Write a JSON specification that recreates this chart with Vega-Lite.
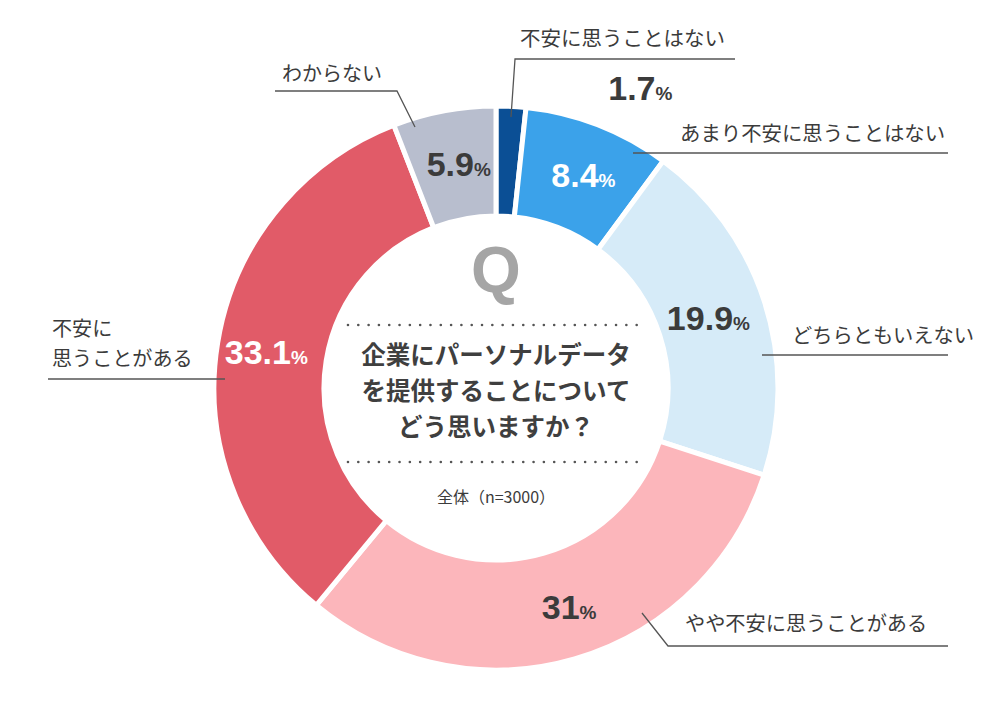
{
  "$schema": "https://vega.github.io/schema/vega-lite/v6.json",
  "width": 1000,
  "height": 710,
  "autosize": {"type": "fit", "contains": "padding"},
  "padding": 0,
  "background": "white",
  "config": {"view": {"stroke": null}, "font": "Noto Sans CJK JP"},
  "datasets": {
    "shares": [
      {"ord": 1, "cat": "不安に思うことはない", "pct": 1.7},
      {"ord": 2, "cat": "あまり不安に思うことはない", "pct": 8.4},
      {"ord": 3, "cat": "どちらともいえない", "pct": 19.9},
      {"ord": 4, "cat": "やや不安に思うことがある", "pct": 31},
      {"ord": 5, "cat": "不安に思うことがある", "pct": 33.1},
      {"ord": 6, "cat": "わからない", "pct": 5.9}
    ],
    "leaders": [
      {"id": 1, "seq": 1, "u": 5.36, "v": 96.79},
      {"id": 1, "seq": 2, "u": 6.79, "v": 117.5},
      {"id": 1, "seq": 3, "u": 85.36, "v": 117.5},
      {"id": 2, "seq": 1, "u": 48.93, "v": 83.93},
      {"id": 2, "seq": 2, "u": 161.43, "v": 83.93},
      {"id": 3, "seq": 1, "u": 95.0, "v": 11.79},
      {"id": 3, "seq": 2, "u": 161.43, "v": 11.79},
      {"id": 4, "seq": 1, "u": 52.14, "v": -80.36},
      {"id": 4, "seq": 2, "u": 61.43, "v": -92.14},
      {"id": 4, "seq": 3, "u": 161.43, "v": -92.14},
      {"id": 5, "seq": 1, "u": -160.0, "v": 3.21},
      {"id": 5, "seq": 2, "u": -96.79, "v": 3.21},
      {"id": 6, "seq": 1, "u": -78.93, "v": 106.07},
      {"id": 6, "seq": 2, "u": -35.36, "v": 106.07},
      {"id": 6, "seq": 3, "u": -28.93, "v": 93.21}
    ],
    "labels": [
      {"cat": "不安に思うことはない", "text": "不安に思うことはない", "u": 8.57, "v": 124.29},
      {"cat": "あまり不安に思うことはない", "text": "あまり不安に思うことはない", "u": 65.71, "v": 90.36},
      {"cat": "どちらともいえない", "text": "どちらともいえない", "u": 105.71, "v": 18.21},
      {"cat": "やや不安に思うことがある", "text": "やや不安に思うことがある", "u": 67.5, "v": -84.64},
      {"cat": "不安に思うことがある", "text": "不安に", "u": -158.57, "v": 20.71},
      {"cat": "不安に思うことがある", "text": "思うことがある", "u": -158.57, "v": 10.0},
      {"cat": "わからない", "text": "わからない", "u": -76.43, "v": 111.79}
    ],
    "outside": [{"pct": "1.7", "u": 56.96, "v": 107.14}],
    "one": [{}]
  },
  "layer": [
    {
      "data": {"name": "shares"},
      "mark": {"type": "arc", "outerRadius": 282, "innerRadius": 172, "stroke": "white", "strokeWidth": 5},
      "encoding": {
        "x": {"datum": 0, "type": "quantitative", "scale": {"domain": [-177.14, 180], "nice": false, "zero": false}, "axis": null},
        "y": {"datum": 0, "type": "quantitative", "scale": {"domain": [-115, 138.57], "nice": false, "zero": false}, "axis": null},
        "theta": {"field": "pct", "type": "quantitative", "stack": true},
        "order": {"field": "ord", "type": "quantitative"},
        "color": {
          "field": "cat", "type": "nominal", "legend": null,
          "scale": {
            "domain": ["不安に思うことはない", "あまり不安に思うことはない", "どちらともいえない", "やや不安に思うことがある", "不安に思うことがある", "わからない"],
            "range": ["#0b4f95", "#3ba2ea", "#d6ebf8", "#fcb6bb", "#e15b68", "#b8bece"]
          }
        }
      }
    },
    {
      "data": {"name": "shares"},
      "mark": {"type": "text", "radius": 228, "align": "right", "baseline": "alphabetic", "dx": 20, "dy": 12, "font": "Liberation Sans", "fontWeight": "bold", "fontSize": 34},
      "encoding": {
        "x": {"datum": 0, "type": "quantitative"},
        "y": {"datum": 0, "type": "quantitative"},
        "theta": {"field": "pct", "type": "quantitative", "stack": true},
        "order": {"field": "ord", "type": "quantitative"},
        "text": {"field": "pct", "type": "nominal"},
        "color": {"condition": {"test": "datum.cat === 'あまり不安に思うことはない' || datum.cat === '不安に思うことがある'", "value": "#ffffff"}, "value": "#3b3b3b"},
        "opacity": {"condition": {"test": "datum.cat === '不安に思うことはない'", "value": 0}, "value": 1}
      }
    },
    {
      "data": {"name": "shares"},
      "mark": {"type": "text", "text": "%", "radius": 228, "align": "left", "baseline": "alphabetic", "dx": 20, "dy": 12, "font": "Liberation Sans", "fontWeight": "bold", "fontSize": 19},
      "encoding": {
        "x": {"datum": 0, "type": "quantitative"},
        "y": {"datum": 0, "type": "quantitative"},
        "theta": {"field": "pct", "type": "quantitative", "stack": true},
        "order": {"field": "ord", "type": "quantitative"},
        "color": {"condition": {"test": "datum.cat === 'あまり不安に思うことはない' || datum.cat === '不安に思うことがある'", "value": "#ffffff"}, "value": "#3b3b3b"},
        "opacity": {"condition": {"test": "datum.cat === '不安に思うことはない'", "value": 0}, "value": 1}
      }
    },
    {
      "data": {"name": "outside"},
      "mark": {"type": "text", "align": "right", "baseline": "alphabetic", "dy": 12, "font": "Liberation Sans", "fontWeight": "bold", "fontSize": 34, "color": "#3b3b3b"},
      "encoding": {
        "x": {"field": "u", "type": "quantitative"},
        "y": {"field": "v", "type": "quantitative"},
        "text": {"field": "pct", "type": "nominal"}
      }
    },
    {
      "data": {"name": "outside"},
      "mark": {"type": "text", "text": "%", "align": "left", "baseline": "alphabetic", "dy": 12, "font": "Liberation Sans", "fontWeight": "bold", "fontSize": 19, "color": "#3b3b3b"},
      "encoding": {
        "x": {"field": "u", "type": "quantitative"},
        "y": {"field": "v", "type": "quantitative"}
      }
    },
    {
      "data": {"name": "leaders"},
      "mark": {"type": "line", "color": "#555555", "strokeWidth": 1.3},
      "encoding": {
        "x": {"field": "u", "type": "quantitative"},
        "y": {"field": "v", "type": "quantitative"},
        "detail": {"field": "id", "type": "nominal"},
        "order": {"field": "seq", "type": "quantitative"}
      }
    },
    {
      "data": {"name": "labels"},
      "mark": {"type": "text", "align": "left", "baseline": "middle", "color": "#3b3b3b", "font": "Noto Sans CJK JP"},
      "encoding": {
        "x": {"field": "u", "type": "quantitative"},
        "y": {"field": "v", "type": "quantitative"},
        "text": {"field": "text", "type": "nominal"},
        "size": {
          "field": "cat", "type": "ordinal", "legend": null,
          "scale": {
            "domain": ["不安に思うことはない", "あまり不安に思うことはない", "どちらともいえない", "やや不安に思うことがある", "不安に思うことがある", "わからない"],
            "range": [20.5, 20, 17, 21, 19, 17.5]
          }
        }
      }
    },
    {
      "data": {"name": "one"},
      "mark": {"type": "text", "text": "Q", "align": "center", "baseline": "middle", "font": "Liberation Sans", "fontWeight": "bold", "fontSize": 64, "color": "#a5a5a5"},
      "encoding": {
        "x": {"datum": 0, "type": "quantitative"},
        "y": {"datum": 41, "type": "quantitative"}
      }
    },
    {
      "data": {"name": "one"},
      "mark": {"type": "rule", "color": "#555555", "strokeWidth": 2.6, "strokeCap": "round", "strokeDash": [0.01, 10.3]},
      "encoding": {
        "x": {"datum": -52.86, "type": "quantitative"},
        "x2": {"datum": 52.5},
        "y": {"datum": 22.5, "type": "quantitative"}
      }
    },
    {
      "data": {"name": "one"},
      "mark": {"type": "rule", "color": "#555555", "strokeWidth": 2.6, "strokeCap": "round", "strokeDash": [0.01, 10.3]},
      "encoding": {
        "x": {"datum": -52.86, "type": "quantitative"},
        "x2": {"datum": 52.5},
        "y": {"datum": -26.43, "type": "quantitative"}
      }
    },
    {
      "data": {"name": "one"},
      "mark": {"type": "text", "text": ["企業にパーソナルデータ", "を提供することについて", "どう思いますか？"], "lineHeight": 36, "align": "center", "baseline": "middle", "font": "Noto Sans CJK JP", "fontWeight": "bold", "fontSize": 24.5, "color": "#3f3f3f"},
      "encoding": {
        "x": {"datum": 0, "type": "quantitative"},
        "y": {"datum": 11.2, "type": "quantitative"}
      }
    },
    {
      "data": {"name": "one"},
      "mark": {"type": "text", "text": "全体（n=3000）", "align": "center", "baseline": "middle", "font": "Noto Sans CJK JP", "fontSize": 16, "color": "#3b3b3b"},
      "encoding": {
        "x": {"datum": 0, "type": "quantitative"},
        "y": {"datum": -39.29, "type": "quantitative"}
      }
    }
  ]
}
